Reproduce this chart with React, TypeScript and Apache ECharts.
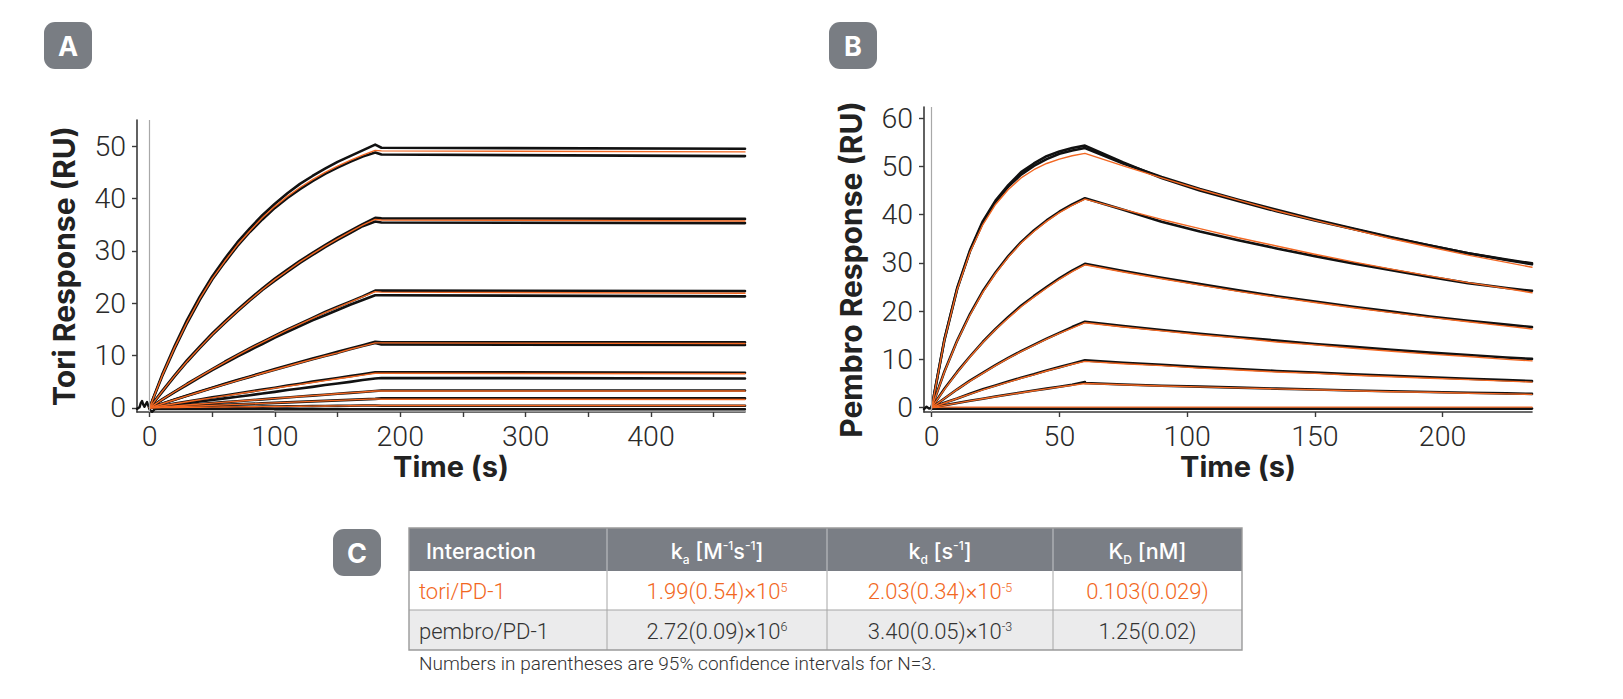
import React, { useEffect, useRef } from "react";
import * as echarts from "echarts";

// ---------- Panel A (tori) ----------
const T_A = [0, 10, 20, 30, 40, 50, 60, 70, 80, 90, 100, 110, 120, 130, 140, 150, 160, 170, 180];
const T_A_PLATEAU = [185, 475];
const A_TICKS = [0, 50, 100, 150, 200, 250, 300, 350, 400, 450];
const A_LABELS = [0, 100, 200, 300, 400];
const A_Y_TICKS = [0, 10, 20, 30, 40, 50];

const fitA1 = [0, 6.1, 11.5, 16.4, 20.8, 24.7, 28.0, 31.1, 33.8, 36.3, 38.5, 40.4, 42.1, 43.6, 45.0, 46.2, 47.3, 48.3, 49.2];
const fitA2 = [0, 3.1, 6.1, 8.9, 11.5, 14.0, 16.3, 18.5, 20.6, 22.6, 24.5, 26.2, 27.9, 29.4, 30.9, 32.3, 33.6, 34.9, 36.0];
const fitA3 = [0, 1.55, 3.07, 4.54, 5.97, 7.35, 8.7, 10.0, 11.3, 12.5, 13.7, 14.9, 16.0, 17.1, 18.2, 19.2, 20.2, 21.2, 22.2];
const fitA4 = [0, 0.78, 1.54, 2.29, 3.03, 3.77, 4.49, 5.2, 5.9, 6.6, 7.28, 7.95, 8.61, 9.26, 9.91, 10.5, 11.2, 11.8, 12.4];
const fitA5 = [0, 0.39, 0.77, 1.15, 1.53, 1.91, 2.28, 2.65, 3.02, 3.39, 3.76, 4.12, 4.48, 4.84, 5.2, 5.55, 5.9, 6.25, 6.6];
const fitA6 = [0, 0.18, 0.36, 0.54, 0.72, 0.9, 1.08, 1.26, 1.44, 1.62, 1.8, 1.97, 2.15, 2.33, 2.5, 2.68, 2.85, 3.03, 3.2];
const fitA7 = [0, 0.09, 0.19, 0.28, 0.38, 0.47, 0.57, 0.66, 0.76, 0.85, 0.94, 1.04, 1.13, 1.23, 1.32, 1.42, 1.51, 1.61, 1.7];
const fitA8 = [0, 0.03, 0.05, 0.08, 0.1, 0.13, 0.15, 0.18, 0.2, 0.23, 0.25, 0.28, 0.3, 0.33, 0.35, 0.38, 0.4, 0.43, 0.45];
const fitAPlateau = [[49.1, 48.9], [35.9, 35.7], [22.1, 21.9], [12.4, 12.3], [6.6, 6.5], [3.2, 3.2], [1.65, 1.6], [0.45, 0.45]];

const repA1a = [0, 6.3, 11.8, 16.8, 21.2, 25.1, 28.5, 31.6, 34.3, 36.8, 39.0, 41.0, 42.8, 44.3, 45.7, 47.0, 48.1, 49.2, 50.3];
const repA1b = [0, 6.0, 11.3, 16.2, 20.6, 24.5, 27.8, 30.9, 33.6, 36.0, 38.2, 40.1, 41.8, 43.3, 44.7, 45.9, 47.0, 48.0, 48.8];
const repA2a = [0, 3.2, 6.2, 9.1, 11.7, 14.2, 16.5, 18.7, 20.8, 22.8, 24.7, 26.4, 28.1, 29.6, 31.1, 32.5, 33.8, 35.1, 36.3];
const repA2b = [0, 3.0, 6.0, 8.8, 11.4, 13.9, 16.2, 18.4, 20.5, 22.5, 24.3, 26.0, 27.7, 29.2, 30.7, 32.1, 33.4, 34.7, 35.6];
const repA3a = [0, 1.6, 3.1, 4.6, 6.0, 7.4, 8.8, 10.1, 11.4, 12.6, 13.8, 15.0, 16.1, 17.2, 18.3, 19.3, 20.3, 21.3, 22.4];
const repA3b = [0, 1.5, 3.0, 4.4, 5.8, 7.2, 8.5, 9.8, 11.0, 12.2, 13.4, 14.5, 15.6, 16.7, 17.7, 18.7, 19.7, 20.6, 21.5];
const repA4a = [0, 0.8, 1.6, 2.35, 3.1, 3.85, 4.6, 5.3, 6.0, 6.7, 7.4, 8.1, 8.75, 9.4, 10.05, 10.7, 11.35, 11.95, 12.6];
const repA5a = [0, 0.4, 0.8, 1.2, 1.6, 2.0, 2.35, 2.75, 3.1, 3.5, 3.85, 4.25, 4.6, 5.0, 5.35, 5.7, 6.05, 6.4, 6.8];
const repA5b = [0, 0.3, 0.6, 0.9, 1.2, 1.5, 1.8, 2.1, 2.4, 2.75, 3.05, 3.4, 3.7, 4.0, 4.35, 4.65, 4.95, 5.3, 5.6];

const repsA = [
  { assoc: repA1a, plateau: [49.7, 49.5] },
  { assoc: repA1b, plateau: [48.4, 48.1] },
  { assoc: repA2a, plateau: [36.2, 36.1] },
  { assoc: repA2b, plateau: [35.4, 35.3] },
  { assoc: repA3a, plateau: [22.4, 22.3] },
  { assoc: repA3b, plateau: [21.5, 21.3] },
  { assoc: repA4a, plateau: [12.5, 12.5] },
  { assoc: fitA4, plateau: [12.1, 12.0] },
  { assoc: repA5a, plateau: [6.8, 6.7] },
  { assoc: repA5b, plateau: [5.7, 5.6] },
  { assoc: fitA6, plateau: [3.3, 3.3] },
  { assoc: fitA7, plateau: [1.8, 1.8] },
  { assoc: fitA8, plateau: [0.4, 0.4] },
];
const fitsA = [fitA1, fitA2, fitA3, fitA4, fitA5, fitA6, fitA7, fitA8];

const preA_T = [-10, -8, -7, -6, -5, -4, -3, -2, -1, 0, 2, 4, 8, 20, 60, 120, 475];
const preA_V = [-0.2, 0.1, 0.9, 1.3, 0.6, 0.2, 0.7, 1.1, 0.4, -0.3, -0.8, -0.3, -0.2, -0.25, -0.25, -0.25, -0.25];
const baseA_T = [100, 475];
const baseA_V = [-0.6, -0.6];

// ---------- Panel B (pembro) ----------
const T_B_ASSOC = [0, 5, 10, 15, 20, 25, 30, 35, 40, 45, 50, 55, 60];
const T_B_DISS = [60, 75, 90, 105, 120, 135, 150, 165, 180, 195, 210, 225, 235];
const B_TICKS = [0, 50, 100, 150, 200];
const B_Y_TICKS = [0, 10, 20, 30, 40, 50, 60];

const fitB1a = [0, 14.0, 24.5, 32.2, 37.9, 42.1, 45.2, 47.6, 49.3, 50.6, 51.5, 52.2, 52.7];
const fitB1d = [52.7, 50.1, 47.6, 45.2, 43.0, 40.8, 38.8, 36.9, 35.0, 33.3, 31.6, 30.1, 29.1];
const fitB2a = [0, 7.4, 13.8, 19.2, 23.9, 27.8, 31.2, 34.1, 36.5, 38.6, 40.4, 41.9, 43.2];
const fitB2d = [43.2, 41.1, 39.0, 37.1, 35.2, 33.5, 31.8, 30.2, 28.7, 27.3, 25.9, 24.7, 23.8];
const fitB3a = [0, 3.8, 7.3, 10.5, 13.5, 16.2, 18.6, 20.9, 22.9, 24.8, 26.6, 28.2, 29.6];
const fitB3d = [29.6, 28.1, 26.7, 25.4, 24.1, 22.9, 21.8, 20.7, 19.7, 18.7, 17.8, 16.9, 16.3];
const fitB4a = [0, 1.9, 3.8, 5.5, 7.1, 8.7, 10.2, 11.6, 12.9, 14.2, 15.4, 16.5, 17.6];
const fitB4d = [17.6, 16.7, 15.9, 15.1, 14.4, 13.6, 13.0, 12.3, 11.7, 11.1, 10.6, 10.0, 9.7];
const fitB5a = [0, 0.96, 1.9, 2.8, 3.7, 4.5, 5.3, 6.1, 6.8, 7.6, 8.3, 9.0, 9.6];
const fitB5d = [9.6, 9.1, 8.7, 8.2, 7.8, 7.4, 7.1, 6.7, 6.4, 6.1, 5.8, 5.5, 5.3];
const fitB6a = [0, 0.48, 0.94, 1.4, 1.84, 2.27, 2.69, 3.1, 3.5, 3.89, 4.27, 4.63, 5.0];
const fitB6d = [5.0, 4.75, 4.5, 4.3, 4.1, 3.9, 3.7, 3.5, 3.3, 3.2, 3.0, 2.85, 2.76];
const fitB7a = [0, 0.1, 0.1, 0.1, 0.1, 0.1, 0.1, 0.1, 0.1, 0.1, 0.1, 0.1, 0.1];
const fitB7d = [0.1, 0.1, 0.1, 0.1, 0.1, 0.1, 0.1, 0.1, 0.1, 0.1, 0.1, 0.1, 0.1];

const datB1a = [0, 14.2, 24.8, 32.6, 38.6, 42.9, 46.1, 48.8, 50.6, 52.1, 53.1, 53.8, 54.3];
const datB1d = [54.3, 50.8, 47.6, 45.0, 42.8, 40.7, 38.8, 37.0, 35.2, 33.6, 32.0, 30.7, 29.9];
const datB1a2 = [0, 14.0, 24.6, 32.4, 38.3, 42.6, 45.8, 48.3, 50.1, 51.5, 52.6, 53.3, 53.8];
const datB1d2 = [53.8, 50.6, 47.8, 45.3, 43.1, 41.0, 39.0, 37.1, 35.3, 33.6, 32.0, 30.6, 29.7];
const datB2a = [0, 7.5, 13.9, 19.4, 24.1, 28.0, 31.4, 34.3, 36.7, 38.8, 40.6, 42.1, 43.4];
const datB2d = [43.4, 41.0, 38.5, 36.5, 34.7, 33.0, 31.4, 29.9, 28.5, 27.1, 25.8, 24.8, 24.2];
const datB3a = [0, 3.9, 7.4, 10.6, 13.6, 16.3, 18.8, 21.1, 23.1, 25.0, 26.8, 28.4, 29.8];
const datB3d = [29.8, 28.3, 26.9, 25.6, 24.3, 23.1, 22.0, 20.9, 19.9, 18.9, 18.0, 17.2, 16.7];
const datB4a = [0, 1.9, 3.8, 5.6, 7.2, 8.8, 10.3, 11.7, 13.0, 14.3, 15.5, 16.7, 17.8];
const datB4d = [17.8, 16.9, 16.1, 15.3, 14.6, 13.9, 13.2, 12.6, 12.0, 11.4, 10.9, 10.4, 10.1];
const datB5a = [0, 1.0, 1.9, 2.9, 3.8, 4.6, 5.4, 6.2, 6.9, 7.7, 8.4, 9.1, 9.8];
const datB5d = [9.8, 9.3, 8.9, 8.4, 8.0, 7.6, 7.3, 6.9, 6.6, 6.3, 6.0, 5.7, 5.5];
const datB6a = [0, 0.5, 0.95, 1.42, 1.86, 2.3, 2.72, 3.13, 3.55, 3.95, 4.35, 4.75, 5.3];
const datB6d = [5.1, 4.8, 4.55, 4.35, 4.15, 3.95, 3.75, 3.55, 3.4, 3.25, 3.1, 2.95, 2.85];
const datB7a = [-0.2, -0.2, -0.2, -0.2, -0.2, -0.2, -0.2, -0.2, -0.2, -0.2, -0.2, -0.2, -0.2];
const datB7d = [-0.2, -0.2, -0.2, -0.2, -0.2, -0.2, -0.2, -0.2, -0.2, -0.2, -0.2, -0.2, -0.2];

const fitsB = [[fitB1a, fitB1d], [fitB2a, fitB2d], [fitB3a, fitB3d], [fitB4a, fitB4d], [fitB5a, fitB5d], [fitB6a, fitB6d], [fitB7a, fitB7d]];
const datsB = [[datB1a, datB1d], [datB1a2, datB1d2], [datB2a, datB2d], [datB3a, datB3d], [datB4a, datB4d], [datB5a, datB5d], [datB6a, datB6d], [datB7a, datB7d]];
const preB_T = [-3, -2, -1, 0];
const preB_V = [-0.3, 0.2, -0.2, 0];

// ---------- Table C ----------
const TABLE_HEAD = [
  "{m|Interaction}",
  "{m|k}{b|a}{m| [M}{s|-1}{m|s}{s|-1}{m|]}",
  "{m|k}{b|d}{m| [s}{s|-1}{m|]}",
  "{m|K}{b|D}{m| [nM]}",
];
const ROW_NAMES = ["tori/PD-1", "pembro/PD-1"];
const KA_VALUES = [["1.99(0.54)×10", "5"], ["2.72(0.09)×10", "6"]];
const KD_VALUES = [["2.03(0.34)×10", "-5"], ["3.40(0.05)×10", "-3"]];
const KDISS_VALUES = ["0.103(0.029)", "1.25(0.02)"];
const FOOTNOTE = "Numbers in parentheses are 95% confidence intervals for N=3.";

const ORANGE = "#f26722";
const BLACK = "#111111";
const AXIS = "#3a3a3a";
const BADGE = "#797d83";

function pairs(ts: number[], vs: number[]) {
  return ts.map((t, i) => [t, vs[i]]);
}

function line(idx: number, data: number[][], color: string, width: number, z: number) {
  return {
    type: "line",
    xAxisIndex: idx,
    yAxisIndex: idx,
    data,
    symbol: "none",
    showSymbol: false,
    silent: true,
    z,
    lineStyle: { color, width, cap: "round", join: "round" },
  };
}

export default function App() {
  const ref = useRef<HTMLDivElement>(null);
  useEffect(() => {
    if (!ref.current) return;
    const chart = echarts.init(ref.current, undefined, { renderer: "svg" });

    const tickFont = { fontFamily: "Roboto", fontWeight: 300, fontSize: 28.5, color: "#2a2a2a" };
    const titleFont = { fontFamily: "Inter", fontWeight: 700, fontSize: 30, color: "#222" };

    const xAxisBase = (idx: number, min: number, max: number, ticks: number[], labels: number[], labelShift: number) => ({
      type: "value",
      gridIndex: idx,
      min,
      max,
      name: "Time (s)",
      nameLocation: "middle",
      nameGap: 39,
      nameTextStyle: { ...titleFont, fontSize: 29, padding: [0, 0, 0, labelShift] },
      axisLine: { show: true, onZero: false, lineStyle: { color: AXIS, width: 1.6 } },
      axisTick: { show: true, length: 5, customValues: ticks, lineStyle: { color: AXIS, width: 1.4 } },
      axisLabel: { show: true, customValues: labels, margin: 10, ...tickFont },
      splitLine: { show: false },
    });
    const yAxisBase = (idx: number, min: number, max: number, ticks: number[], name: string, pad: number[]) => ({
      type: "value",
      gridIndex: idx,
      min,
      max,
      name,
      nameLocation: "middle",
      nameGap: 58,
      nameTextStyle: { ...titleFont, padding: pad },
      axisLine: { show: true, onZero: false, lineStyle: { color: AXIS, width: 1.6 } },
      axisTick: { show: true, length: 5, customValues: ticks, lineStyle: { color: AXIS, width: 1.4 } },
      axisLabel: { show: true, customValues: ticks, margin: 11, ...tickFont },
      splitLine: { show: false },
    });

    const series: any[] = [];
    repsA.forEach((r) => {
      series.push(line(0, pairs(T_A, r.assoc).concat(pairs(T_A_PLATEAU, r.plateau)), BLACK, 2.6, 2));
    });
    series.push(line(0, pairs(preA_T, preA_V), BLACK, 2.4, 2));
    series.push(line(0, pairs(baseA_T, baseA_V), "#9a9a9a", 2, 1));
    fitsA.forEach((f, i) => {
      series.push(line(0, pairs(T_A, f).concat(pairs(T_A_PLATEAU, fitAPlateau[i])), ORANGE, 1.4, 3));
    });
    series.push({
      type: "line",
      xAxisIndex: 0,
      yAxisIndex: 0,
      data: [],
      silent: true,
      markLine: {
        silent: true,
        symbol: ["none", "none"],
        label: { show: false },
        lineStyle: { color: "#a8a8a8", width: 1.2, type: "solid" },
        data: [{ xAxis: 0 }],
      },
    });

    datsB.forEach((d) => {
      series.push(line(1, pairs(T_B_ASSOC, d[0]).concat(pairs(T_B_DISS, d[1])), BLACK, 2.6, 2));
    });
    series.push(line(1, pairs(preB_T, preB_V), BLACK, 2.4, 2));
    fitsB.forEach((f) => {
      series.push(line(1, pairs(T_B_ASSOC, f[0]).concat(pairs(T_B_DISS, f[1])), ORANGE, 1.4, 3));
    });
    series.push({
      type: "line",
      xAxisIndex: 1,
      yAxisIndex: 1,
      data: [],
      silent: true,
      markLine: {
        silent: true,
        symbol: ["none", "none"],
        label: { show: false },
        lineStyle: { color: "#a8a8a8", width: 1.2, type: "solid" },
        data: [{ xAxis: 0 }],
      },
    });

    const badge = (x: number, y: number, letter: string) => ({
      type: "group",
      children: [
        { type: "rect", shape: { x, y, width: 48, height: 47, r: 11 }, style: { fill: BADGE } },
        {
          type: "text",
          style: {
            x: x + 24,
            y: y + 24,
            text: letter,
            fill: "#fff",
            fontFamily: "Inter",
            fontWeight: 700,
            fontSize: 27,
            align: "center",
            verticalAlign: "middle",
          },
        },
      ],
    });

    const colX = [409, 607, 827, 1053, 1242];
    const rowY = [528, 571, 610, 650];
    const headRich = {
      m: { fontFamily: "Inter", fontSize: 21.5, fontWeight: 500, fill: "#fff", lineHeight: 30, verticalAlign: "middle" },
      s: { fontFamily: "Inter", fontSize: 12, fontWeight: 500, fill: "#fff", lineHeight: 12, verticalAlign: "top", padding: [4, 0, 0, 0] },
      b: { fontFamily: "Inter", fontSize: 12, fontWeight: 500, fill: "#fff", lineHeight: 12, verticalAlign: "bottom" },
    };
    const cellRich = (color: string) => ({
      m: { fontFamily: "Roboto", fontSize: 22, fontWeight: 300, fill: color, lineHeight: 28, verticalAlign: "middle" },
      s: { fontFamily: "Roboto", fontSize: 12.5, fontWeight: 300, fill: color, lineHeight: 12, verticalAlign: "top", padding: [3, 0, 0, 0] },
    });

    const tableEls: any[] = [];
    tableEls.push({ type: "rect", shape: { x: colX[0], y: rowY[0], width: colX[4] - colX[0], height: rowY[1] - rowY[0] }, style: { fill: "#7a7e85" } });
    tableEls.push({ type: "rect", shape: { x: colX[0], y: rowY[1], width: colX[4] - colX[0], height: rowY[2] - rowY[1] }, style: { fill: "#ffffff" } });
    tableEls.push({ type: "rect", shape: { x: colX[0], y: rowY[2], width: colX[4] - colX[0], height: rowY[3] - rowY[2] }, style: { fill: "#ebebec" } });
    for (let c = 1; c < 4; c++) {
      tableEls.push({ type: "line", shape: { x1: colX[c], y1: rowY[0], x2: colX[c], y2: rowY[1] }, style: { stroke: "#c4c6c9", lineWidth: 1 } });
      tableEls.push({ type: "line", shape: { x1: colX[c], y1: rowY[1], x2: colX[c], y2: rowY[3] }, style: { stroke: "#a6a6a6", lineWidth: 1 } });
    }
    tableEls.push({ type: "line", shape: { x1: colX[0], y1: rowY[2], x2: colX[4], y2: rowY[2] }, style: { stroke: "#a6a6a6", lineWidth: 1.2 } });
    tableEls.push({ type: "rect", shape: { x: colX[0], y: rowY[0], width: colX[4] - colX[0], height: rowY[3] - rowY[0] }, style: { fill: "none", stroke: "#9a9a9a", lineWidth: 1.4 } });

    TABLE_HEAD.forEach((h, c) => {
      const left = c === 0;
      tableEls.push({
        type: "text",
        style: {
          x: left ? colX[0] + 17 : (colX[c] + colX[c + 1]) / 2,
          y: (rowY[0] + rowY[1]) / 2 + 1,
          text: h,
          rich: headRich,
          fill: "#fff",
          align: left ? "left" : "center",
          verticalAlign: "middle",
        },
      });
    });
    ROW_NAMES.forEach((name, r) => {
      const color = r === 0 ? ORANGE : "#333333";
      const cy = (rowY[r + 1] + rowY[r + 2]) / 2 + 1;
      const rich = cellRich(color);
      const cells = [
        `{m|${name}}`,
        `{m|${KA_VALUES[r][0]}}{s|${KA_VALUES[r][1]}}`,
        `{m|${KD_VALUES[r][0]}}{s|${KD_VALUES[r][1]}}`,
        `{m|${KDISS_VALUES[r]}}`,
      ];
      cells.forEach((t, c) => {
        const left = c === 0;
        tableEls.push({
          type: "text",
          style: {
            x: left ? colX[0] + 10 : (colX[c] + colX[c + 1]) / 2,
            y: cy,
            text: t,
            rich,
            fill: color,
            align: left ? "left" : "center",
            verticalAlign: "middle",
          },
        });
      });
    });
    tableEls.push({
      type: "text",
      style: {
        x: 419,
        y: 663,
        text: FOOTNOTE,
        fill: "#333",
        fontFamily: "Roboto",
        fontWeight: 300,
        fontSize: 19,
        align: "left",
        verticalAlign: "middle",
      },
    });

    chart.setOption({
      animation: false,
      backgroundColor: "#ffffff",
      grid: [
        { left: 137, top: 120, width: 608, height: 292, containLabel: false },
        { left: 924, top: 107, width: 608, height: 305, containLabel: false },
      ],
      xAxis: [
        xAxisBase(0, -10, 475, A_TICKS, A_LABELS, 20),
        xAxisBase(1, -3, 235, B_TICKS, B_TICKS, 20),
      ],
      yAxis: [
        yAxisBase(0, -0.8, 55, A_Y_TICKS, "Tori Response (RU)", [0, 0, 0, 0]),
        yAxisBase(1, -0.9, 62.3, B_Y_TICKS, "Pembro Response (RU)", [0, 20, 0, 0]),
      ],
      series,
      graphic: [badge(44, 22, "A"), badge(829, 22, "B"), badge(333, 529, "C"), ...tableEls],
    });
    return () => chart.dispose();
  }, []);
  return <div ref={ref} style={{ position: "absolute", left: 0, top: 0, width: 1623, height: 699 }} />;
}
